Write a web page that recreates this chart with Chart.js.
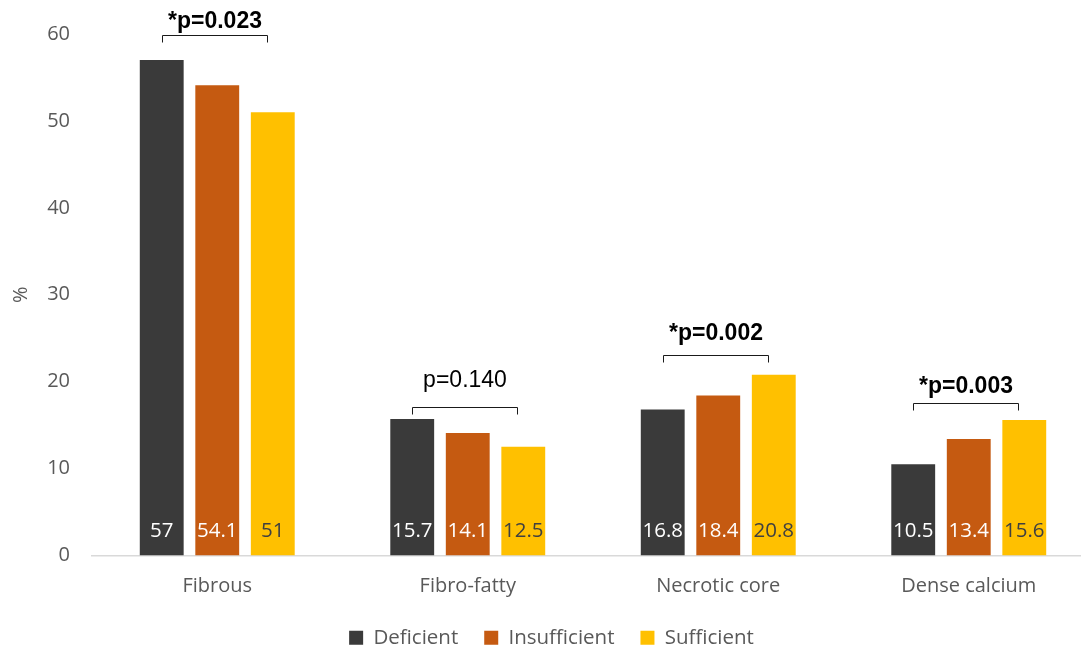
<!DOCTYPE html>
<html>
<head>
<meta charset="utf-8">
<script src="https://cdn.jsdelivr.net/npm/chart.js@4/dist/chart.umd.min.js"></script>
<style>
  html, body { margin: 0; padding: 0; background: #fff; overflow: hidden; }
  #wrap { width: 1110px; height: 658px; }
</style>
</head>
<body>
<div id="wrap"><canvas id="c" width="1110" height="658"></canvas></div>
<script>
// Plaque composition by vitamin D status
const categories = ['Fibrous', 'Fibro-fatty', 'Necrotic core', 'Dense calcium'];
const deficient = [57, 15.7, 16.8, 10.5];
const insufficient = [54.1, 14.1, 18.4, 13.4];
const sufficient = [51, 12.5, 20.8, 15.6];
const seriesNames = ['Deficient', 'Insufficient', 'Sufficient'];
const pValues = ['*p=0.023', 'p=0.140', '*p=0.002', '*p=0.003'];
const pSignificant = [true, false, true, true];
const bracketLevels = [59.9, 17.1, 23.1, 17.5];
const pTextLevels = [61.5, 20.2, 25.6, 19.5];
const yTicks = [0, 10, 20, 30, 40, 50, 60];

const colors = ['#3a3a3a', '#c55a11', '#ffc000'];
const labelColors = ['#ffffff', '#ffffff', '#404040'];

const annotations = {
  id: 'annotations',
  afterDatasetsDraw(chart) {
    const ctx = chart.ctx;
    const y = chart.scales.y;
    // value labels at the foot of each bar
    ctx.save();
    ctx.font = '20.5px "Open Sans", sans-serif';
    ctx.textAlign = 'center';
    ctx.textBaseline = 'middle';
    chart.data.datasets.forEach((ds, di) => {
      chart.getDatasetMeta(di).data.forEach((bar, i) => {
        ctx.fillStyle = labelColors[di];
        ctx.fillText(String(ds.data[i]), bar.x, y.getPixelForValue(0) - 24);
      });
    });
    ctx.restore();

    // significance brackets
    ctx.save();
    const first = chart.getDatasetMeta(0).data;
    const last = chart.getDatasetMeta(2).data;
    categories.forEach((c, i) => {
      const x1 = Math.round(first[i].x) + 0.5;
      const x2 = Math.round(last[i].x - 6) + 0.5;
      const yy = Math.round(y.getPixelForValue(bracketLevels[i])) + 0.5;
      ctx.strokeStyle = '#1a1a1a';
      ctx.lineWidth = 1;
      ctx.beginPath();
      ctx.moveTo(x1, yy + 7);
      ctx.lineTo(x1, yy);
      ctx.lineTo(x2, yy);
      ctx.lineTo(x2, yy + 7);
      ctx.stroke();
      ctx.fillStyle = '#000';
      ctx.font = (pSignificant[i] ? 'bold ' : '') + '23px "Liberation Sans", Arial, sans-serif';
      ctx.textAlign = 'center';
      ctx.textBaseline = 'middle';
      ctx.fillText(pValues[i], (x1 + x2) / 2, y.getPixelForValue(pTextLevels[i]) + 1);
    });
    ctx.restore();
  }
};

const datasets = [deficient, insufficient, sufficient].map((d, i) => ({
  label: seriesNames[i],
  data: d,
  backgroundColor: colors[i],
  categoryPercentage: 0.665,
  barPercentage: 0.79
}));

new Chart(document.getElementById('c'), {
  type: 'bar',
  data: { labels: categories, datasets },
  options: {
    responsive: false,
    animation: false,
    layout: { padding: { top: 30, right: 16, left: 9, bottom: 0 } },
    plugins: {
      legend: {
        position: 'bottom',
        labels: {
          boxWidth: 14,
          boxHeight: 14,
          padding: 26,
          color: '#595959',
          font: { family: '"Open Sans", sans-serif', size: 20.5 }
        }
      },
      tooltip: { enabled: false }
    },
    scales: {
      x: {
        grid: { display: false, drawTicks: false },
        border: { color: '#d9d9d9', width: 1.5 },
        ticks: {
          color: '#595959',
          padding: 19,
          font: { family: '"Open Sans", sans-serif', size: 20 }
        },
        afterFit(scale) { scale.height = 46; }
      },
      y: {
        min: 0,
        max: 60,
        afterBuildTicks(axis) { axis.ticks = yTicks.map(v => ({ value: v })); },
        afterFit(scale) { scale.width = 83; },
        grid: { display: false, drawTicks: false },
        border: { display: false },
        title: {
          display: true,
          text: '%',
          color: '#595959',
          padding: { top: 0, bottom: 14 },
          font: { family: '"Open Sans", sans-serif', size: 20 }
        },
        ticks: {
          color: '#595959',
          padding: 22,
          font: { family: '"Open Sans", sans-serif', size: 20 }
        }
      }
    }
  },
  plugins: [annotations]
});
</script>
</body>
</html>
